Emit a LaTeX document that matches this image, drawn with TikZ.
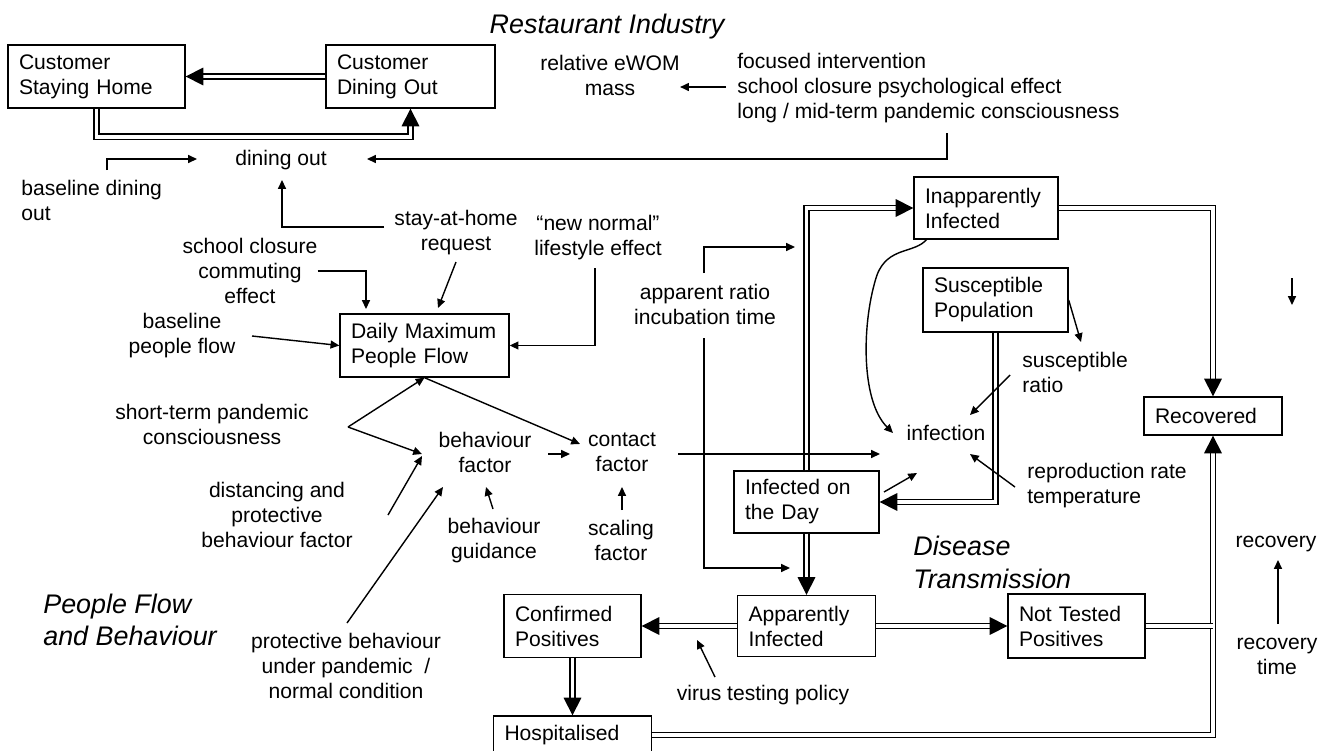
\documentclass[tikz,border=0pt]{standalone}
\usepackage{fontspec}
\setmainfont{Liberation Sans}
\usetikzlibrary{arrows.meta}

\begin{document}
\begin{tikzpicture}[x=0.02cm, y=-0.02cm,
    every node/.style={font=\fontsize{12}{14.2}\selectfont, inner sep=0pt},
    stock/.style={draw, line width=0.8pt, align=left, inner xsep=0.22cm, inner ysep=0pt},
    var/.style={align=center},
    lvar/.style={align=left, anchor=west},
    region/.style={font=\fontsize{15.3}{18.6}\selectfont\itshape, align=left},
    arr/.style={line width=0.8pt, -{Triangle[length=5pt,width=4.5pt]}},
    pipe/.style={double, double distance=2.1pt, line width=0.9pt},
    flow/.style={pipe, -{Triangle[length=10pt,width=10pt]}}]
    \useasboundingbox (0,0) rectangle (1330,751);

    % restaurant industry
    \node[region, anchor=base] (resttitle) at (607,33) {Restaurant Industry};
    \node[stock, text width=3.1cm, minimum height=1.26cm] (home) at (96.5,76.5) {Customer\\Staying Home};
    \node[stock, text width=2.94cm, minimum height=1.26cm] (dine) at (410.5,76.5) {Customer\\Dining Out};
    \node[var] (ewom) at (610,75.5) {relative eWOM\\mass};
    \node[lvar] (focus) at (737,87.7) {focused intervention\\school closure psychological effect\\long / mid-term pandemic consciousness};
    \node[var] (dining) at (281,160) {dining out};
    \node[lvar] (basedine) at (21,200.5) {baseline dining\\out};
    \node[var] (stayhome) at (456,232.5) {stay-at-home\\request};
    \node[var] (newnormal) at (598,238) {“new normal”\\lifestyle effect};

    \draw[flow] (dine.west) -- (home.east);
    \draw[flow] (home.south) -- ++(0,28) -| (dine.south);
    \coordinate (focusin) at (726,87);
    \draw[arr] (focusin) -- (focusin -| ewom.east);
    \coordinate (focusout) at (947,133);
    \coordinate (diningr) at (367,159);
    \draw[arr] (focusout) |- (diningr);
    \coordinate (bdout) at (107,170);
    \coordinate (diningl) at (197,159);
    \draw[arr] (bdout) |- (diningl);
    \coordinate (sahout) at (384,227);
    \coordinate (diningb) at (282,180);
    \draw[arr] (sahout) -| (diningb);

    % people flow and behaviour
    \node[region, anchor=west] (pfblabel) at (43,620) {People Flow\\and Behaviour};
    \node[stock, text width=2.94cm, minimum height=1.26cm] (flow) at (424.5,345.5) {Daily Maximum\\People Flow};
    \node[var] (school) at (250,271) {school closure\\commuting\\effect};
    \node[var] (basepf) at (182,335.7) {baseline\\people flow};
    \node[var] (shortterm) at (212,424.5) {short-term pandemic\\consciousness};
    \node[var] (bfactor) at (485,452.5) {behaviour\\factor};
    \node[var] (cfactor) at (622,452.5) {contact\\factor};
    \node[var] (distancing) at (277,514.7) {distancing and\\protective\\behaviour factor};
    \node[var] (protbeh) at (346,666) {protective behaviour\\under pandemic\ \ /\\normal condition};
    \node[var] (bguide) at (494,540.5) {behaviour\\guidance};
    \node[var] (scaling) at (621,540) {scaling\\factor};

    \coordinate (schoolin) at (366,309);
    \draw[arr] (school.east) -| (schoolin);
    \coordinate (sahout2) at (456,262);
    \coordinate (flowtop) at (438,308);
    \draw[arr] (sahout2) -- (flowtop);
    \coordinate (nnout) at (595,268);
    \draw[arr] (nnout) |- (flow.east);
    \coordinate (bpfout) at (252,336);
    \draw[arr] (bpfout) -- (flow.west);
    \coordinate (stsplit) at (348,427);
    \coordinate (bfin1) at (422,454);
    \draw[arr] (stsplit) -- (flow.south);
    \draw[arr] (stsplit) -- (bfin1);
    \coordinate (cfin1) at (580,444);
    \draw[arr] (flow.south) -- (cfin1);
    \coordinate (bfout) at (548,454);
    \coordinate (cfin2) at (570,454);
    \draw[arr] (bfout) -- (cfin2);
    \coordinate (distout) at (388,515);
    \coordinate (bfin2) at (422,456);
    \draw[arr] (distout) -- (bfin2);
    \coordinate (pbout) at (347,623);
    \coordinate (bfin3) at (443,487);
    \draw[arr] (pbout) -- (bfin3);
    \coordinate (bgout) at (493,509);
    \coordinate (bfin4) at (486,487);
    \draw[arr] (bgout) -- (bfin4);
    \coordinate (scout) at (622,510);
    \coordinate (cfin3) at (622,487);
    \draw[arr] (scout) -- (cfin3);

    % disease transmission
    \node[region, anchor=west] (dtlabel) at (913,562.7) {Disease\\Transmission};
    \node[stock, text width=2.44cm, minimum height=1.24cm] (inapp) at (986,208) {Inapparently\\Infected};
    \node[stock, text width=2.46cm, minimum height=1.28cm] (sus) at (995.5,300) {Susceptible\\Population};
    \node[stock, text width=2.32cm, minimum height=0.76cm] (rec) at (1213,416) {Recovered};
    \node[stock, text width=2.46cm, minimum height=1.24cm] (onday) at (806.5,502) {Infected on\\the Day};
    \node[stock, text width=2.32cm, minimum height=1.22cm] (apparent) at (806.5,626) {Apparently\\Infected};
    \node[stock, text width=2.3cm, minimum height=1.26cm] (confirmed) at (572.5,626) {Confirmed\\Positives};
    \node[stock, text width=2.3cm, minimum height=1.28cm] (nottested) at (1076.5,626) {Not Tested\\Positives};
    \node[stock, text width=2.72cm, minimum height=0.76cm] (hosp) at (572.5,735) {Hospitalised};
    \node[var] (apratio) at (705,304.5) {apparent ratio\\incubation time};
    \node[lvar] (susratio) at (1022,372.5) {susceptible\\ratio};
    \node[var] (infection) at (946,433) {infection};
    \node[lvar] (reprod) at (1027,485.5) {reproduction rate\\temperature};
    \node[var] (virus) at (763,695) {virus testing policy};
    \node[var] (recovery) at (1276,544) {recovery};
    \node[var] (rectime) at (1277,656.5) {recovery\\time};

    \draw[flow] (onday.north) |- (inapp.west);
    \draw[flow] (inapp.east) -| (rec.north);
    \draw[flow] (sus.south) |- (onday.east);
    \draw[flow] (onday.south) -- (apparent.north);
    \draw[flow] (apparent.west) -- (confirmed.east);
    \draw[flow] (apparent.east) -- (nottested.west);
    \draw[flow] (confirmed.south) -- (hosp.north);
    \draw[flow] (hosp.east) -| (rec.south);
    \draw[pipe] (nottested.east) -- (nottested.east -| rec.south);

    \coordinate (arout1) at (704,273);
    \coordinate (inappin) at (795,247);
    \draw[arr] (arout1) |- (inappin);
    \coordinate (arout2) at (704,338);
    \coordinate (appin) at (790,568);
    \draw[arr] (arout2) |- (appin);
    \coordinate (cfout) at (678,454);
    \coordinate (infin1) at (880,454);
    \draw[arr] (cfout) -- (infin1);
    \coordinate (inappout) at (927,239);
    \coordinate (infin2) at (893,433);
    \draw[arr] (inappout) .. controls (915,254) and (888,246) .. (877,275)
        .. controls (862,320) and (860,400) .. (infin2);
    \coordinate (susin) at (1081,342);
    \draw[arr] (sus.east) -- (susin);
    \coordinate (srout) at (1010,375);
    \coordinate (infin3) at (970,415);
    \draw[arr] (srout) -- (infin3);
    \coordinate (rrout) at (1015,487);
    \coordinate (infin4) at (970,454);
    \draw[arr] (rrout) -- (infin4);
    \coordinate (odout) at (884,492);
    \coordinate (infin5) at (917,473);
    \draw[arr] (odout) -- (infin5);
    \coordinate (vtout) at (715,677);
    \coordinate (testin) at (697,640);
    \draw[arr] (vtout) -- (testin);
    \coordinate (rtout) at (1278,624);
    \coordinate (recin) at (1278,560);
    \draw[arr] (rtout) -- (recin);
    \coordinate (lonetop) at (1292,278);
    \coordinate (lonetip) at (1292,305);
    \draw[arr] (lonetop) -- (lonetip);
\end{tikzpicture}
\end{document}
